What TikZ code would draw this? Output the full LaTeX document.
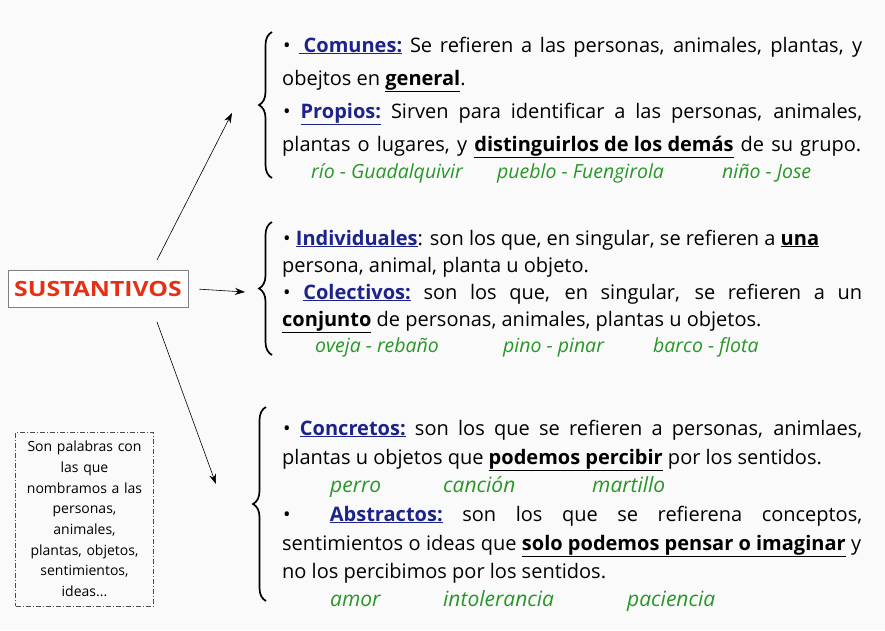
\documentclass[tikz,border=0pt]{standalone}
\usepackage
{
  fontspec,
  xcolor,
  tikz,
}
\setmainfont{Open Sans}
\usetikzlibrary{arrows.meta, decorations.pathreplacing}

\definecolor{azul}{RGB}{28,36,140}
\definecolor{verde}{RGB}{40,150,40}
\definecolor{rojo}{RGB}{228,48,20}
\definecolor{fondo}{RGB}{250,250,250}

\newcommand{\tit}[1]{\textcolor{azul}{\textbf{\underline{#1}}}}
\newcommand{\resalta}[1]{\textbf{\underline{#1}}}
\newcommand{\llena}[1]{\makebox[579pt][s]{#1}}

\tikzset{
  linea/.style={anchor=base west, inner sep=0pt, font=\fontsize{20}{22}\selectfont},
  ejemplo/.style={anchor=base west, inner sep=0pt, text=verde, font=\fontsize{19.5}{22}\selectfont\itshape},
  llave/.style={decorate, decoration={brace, amplitude=13pt}, line width=1.7pt},
  flecha/.style={-{Stealth[length=10pt,width=7pt]}, line width=0.6pt},
}

\begin{document}
\begin{tikzpicture}[x=1pt, y=-1pt]
\fill[fondo] (0,0) rectangle (885,630);
\useasboundingbox (0,0) rectangle (885,630);

\node[draw=gray, line width=1pt, fill=white, minimum width=180pt, minimum height=37pt,
      text=rojo, font=\fontsize{21}{24}\selectfont\bfseries] (sust) at (98,288.5) {\scalebox{1.18}[1]{SUSTANTIVOS}};

\node[draw=black!70, dash pattern=on 5pt off 2pt on 1pt off 2pt, line width=0.6pt,
      minimum width=135pt, minimum height=174pt, text width=131pt, align=center,
      font=\fontsize{14}{20.7}\selectfont] (nota) at (84.5,519)
  {Son palabras con\\ las que\\ nombramos a las\\ personas,\\ animales,\\ plantas, objetos,\\ sentimientos,\\ ideas...};

\coordinate (sal1) at (157,260);
\coordinate (sal3) at (157,322);
\coordinate (lla1) at (232,113);
\coordinate (lla2) at (245,292);
\coordinate (lla3) at (216,484);
\draw[flecha] (sal1) -- (lla1);
\draw[flecha, shorten <=11pt] (sust.east) -- (lla2);
\draw[flecha] (sal3) -- (lla3);

\draw[llave] (272,178) -- (272,32);
\draw[llave] (272,355) -- (272,222);
\draw[llave] (266,601) -- (266,407);

\node[linea] (t1) at (283,52) {\llena{• \tit{\ Comunes:} Se refieren a las personas, animales, plantas, y}};
\node[linea] (t2) at (282,85) {obejtos en \resalta{general}.};
\node[linea] (t3) at (283,118) {\llena{• \tit{Propios:} Sirven para identificar a las personas, animales,}};
\node[linea] (t4) at (282,151) {\llena{plantas o lugares, y \resalta{distinguirlos de los demás} de su grupo.}};
\node[ejemplo] (e1) at (311,178) {río - Guadalquivir};
\node[ejemplo] (e2) at (497,178) {pueblo - Fuengirola};
\node[ejemplo] (e3) at (722,178) {niño - Jose};

\node[linea] (m1) at (283,245) {• \tit{Individuales}: son los que, en singular, se refieren a \resalta{una}};
\node[linea] (m2) at (282,272) {persona, animal, planta u objeto.};
\node[linea] (m3) at (283,299) {\llena{• \tit{Colectivos:} son los que, en singular, se refieren a un}};
\node[linea] (m4) at (282,326) {\resalta{conjunto} de personas, animales, plantas u objetos.};
\node[ejemplo] (e4) at (315,352) {oveja - rebaño};
\node[ejemplo] (e5) at (503,352) {pino - pinar};
\node[ejemplo] (e6) at (653,352) {barco - flota};

\node[linea] (b1) at (283,435) {\llena{• \tit{Concretos:} son los que se refieren a personas, animlaes,}};
\node[linea] (b2) at (282,464) {plantas u objetos que \resalta{podemos percibir} por los sentidos.};
\node[ejemplo, font=\fontsize{21}{24}\selectfont\itshape] (e7) at (330,492) {perro};
\node[ejemplo, font=\fontsize{21}{24}\selectfont\itshape] (e8) at (443,492) {canción};
\node[ejemplo, font=\fontsize{21}{24}\selectfont\itshape] (e9) at (592,492) {martillo};
\node[linea] (b4) at (283,521) {\llena{• \ \tit{Abstractos:} son los que se refierena conceptos,}};
\node[linea] (b5) at (282,550) {\llena{sentimientos o ideas que \resalta{solo podemos pensar o imaginar} y}};
\node[linea] (b6) at (282,578) {no los percibimos por los sentidos.};
\node[ejemplo, font=\fontsize{21}{24}\selectfont\itshape] (e10) at (330,606) {amor};
\node[ejemplo, font=\fontsize{21}{24}\selectfont\itshape] (e11) at (443,606) {intolerancia};
\node[ejemplo, font=\fontsize{21}{24}\selectfont\itshape] (e12) at (627,606) {paciencia};
\end{tikzpicture}
\end{document}
